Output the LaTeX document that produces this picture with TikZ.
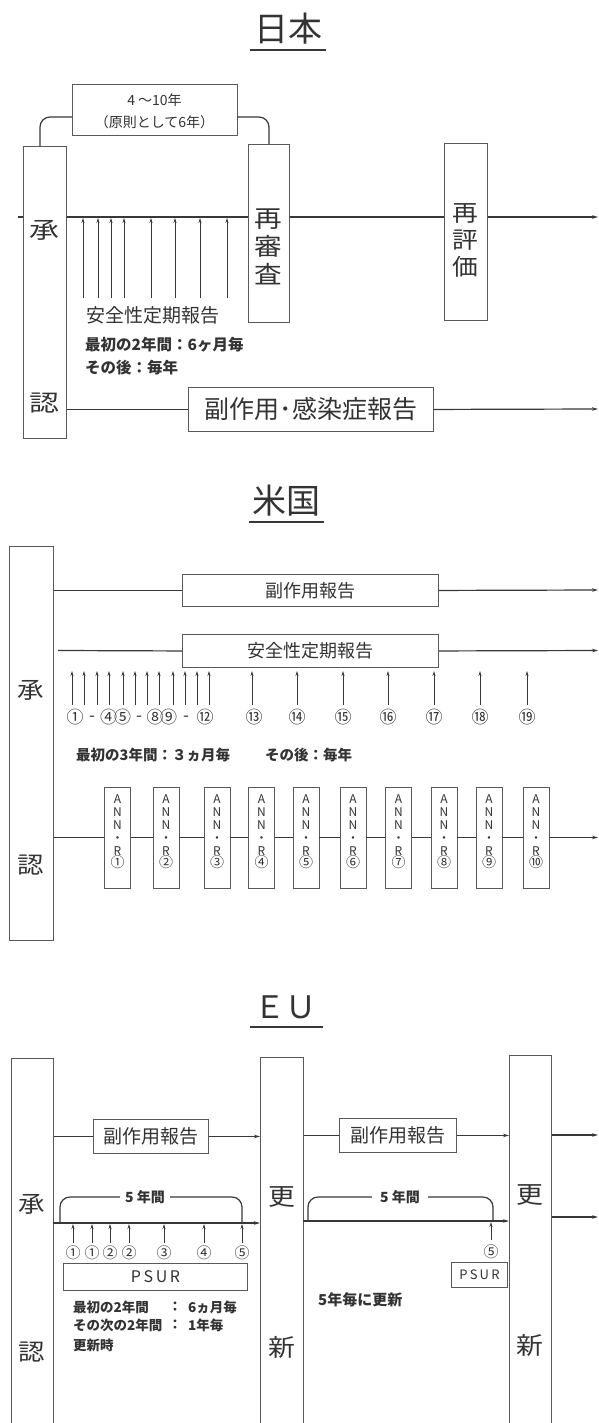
\documentclass[tikz,border=0pt]{standalone}
\usepackage{fontspec}
\setmainfont{Noto Sans CJK JP}
\usepackage{graphicx}
\usetikzlibrary{arrows.meta,calc}
\newcommand{\jw}[2]{\scalebox{#1}[1]{#2}}
\newcommand{\jfs}[1]{\fontsize{#1}{#1}\selectfont}
\begin{document}
\begin{tikzpicture}[x=1pt,y=-1pt,
  bx/.style={draw=black!65, line width=0.9pt, fill=white, inner sep=0pt, anchor=north west, text=black!80},
  ln/.style={draw=black!78, line width=1.2pt},
  arr/.style={ln, -{Stealth[length=6pt,width=3.5pt]}},
  up/.style={draw=black!78, line width=1pt, -{Stealth[length=5pt,width=3pt]}},
  txt/.style={inner sep=0pt, text=black!80},
  ]
\useasboundingbox (0,0) rectangle (599,1423);
\clip (0,0) rectangle (599,1423);
\fill[white] (0,0) rectangle (599,1423);

% ================= Japan =================
\node[txt, font=\jfs{34}] (jt) at (288,29) {日本};
\draw[ln] (250,50) -- (326,50);

\node[bx, minimum width=43pt, minimum height=292pt] (jA) at (23,146) {};
\node[txt, font=\jfs{23}] (jA1) at (44.5,230) {\jw{1.3}{承}};
\node[txt, font=\jfs{23}] (jA2) at (44.5,403) {\jw{1.3}{認}};

\node[bx, minimum width=41pt, minimum height=178pt] (jB) at (248,144) {};
\node[txt, align=center, font=\fontsize{24}{28}\selectfont] (jBt) at (268.5,246.5) {\jw{1.15}{再}\\\jw{1.15}{審}\\\jw{1.15}{査}};

\node[bx, minimum width=43pt, minimum height=177pt] (jC) at (444,143) {};
\node[txt, align=center, font=\fontsize{23}{27}\selectfont] (jCt) at (465.5,240) {\jw{1.12}{再}\\\jw{1.12}{評}\\\jw{1.12}{価}};

\node[bx, minimum width=165pt, minimum height=51pt] (jD) at (72,84) {};
\node[txt, align=center, font=\fontsize{14}{22}\selectfont] (jDt) at (154.5,111) {4 ～10年\\（原則として6年）};

\coordinate (jbl) at (40,146);
\coordinate (jbly) at (72,117);
\coordinate (jbry) at (237,117);
\coordinate (jbr) at (269,144);
\draw[ln, rounded corners=10pt] (jbl) |- (jbly);
\draw[ln, rounded corners=10pt] (jbry) -| (jbr);

\coordinate (jm0) at (18,217);
\coordinate (jm1) at (598,217);
\draw[ln] (jm0) -- (jA.west |- jm0);
\draw[ln] (jA.east |- jm0) -- (jB.west |- jm0);
\draw[ln] (jB.east |- jm0) -- (jC.west |- jm0);
\draw[arr] (jC.east |- jm0) -- (jm1);

\foreach \x [count=\i] in {83,98,111,124,151,175,200,227} {
  \coordinate (ja\i) at (\x,298);
  \coordinate (jb\i) at (\x,218);
  \draw[up] (ja\i) -- (jb\i);
}

\node[txt, font=\jfs{19}] (jS) at (153,315) {安全性定期報告};
\node[txt, font=\jfs{15.5}\bfseries, anchor=west] (jS1) at (85,345) {最初の2年間：6ヶ月毎};
\node[txt, font=\jfs{15.5}\bfseries, anchor=west] (jS2) at (85,368) {その後：毎年};

\node[bx, minimum width=245pt, minimum height=44pt, font=\jfs{25}] (jE) at (188,387) {副作用･感染症報告};
\coordinate (je1) at (598,409);
\draw[ln] (jA.east |- jE.west) -- (jE.west);
\draw[arr] (jE.east) -- (je1);

% ================= USA =================
\node[txt, font=\jfs{34}] (ut) at (286,501) {米国};
\draw[ln] (249,522) -- (324,522);

\node[bx, minimum width=44pt, minimum height=394pt] (uA) at (9,546) {};
\node[txt, font=\jfs{23}] (uA1) at (31,690) {\jw{1.15}{承}};
\node[txt, font=\jfs{23}] (uA2) at (31,865) {\jw{1.15}{認}};

\node[bx, minimum width=256pt, minimum height=32pt, font=\jfs{18}] (uB) at (182,574) {副作用報告};
\node[bx, minimum width=256pt, minimum height=33pt, font=\jfs{18}] (uC) at (182,634) {安全性定期報告};
\coordinate (ub1) at (598,590);
\coordinate (uc0) at (58,650.5);
\coordinate (uc1) at (598,650.5);
\draw[ln] (uA.east |- uB.west) -- (uB.west);
\draw[arr] (uB.east) -- (ub1);
\draw[ln] (uc0) -- (uC.west);
\draw[arr] (uC.east) -- (uc1);

\foreach \x [count=\i] in {72,84,97,109,123,135,147,159,173,185,197,209,252,297,343,388,434,480,527} {
  \coordinate (ua\i) at (\x,705);
  \coordinate (ub\i) at (\x,671);
  \draw[up] (ua\i) -- (ub\i);
}
\begin{scope}[every node/.style={txt, font=\jfs{17}}]
\node (ul1) at (75,717) {①};
\node (ud1) at (92,718.5) {-};
\node (ul4) at (108.5,717) {④};
\node (ul5) at (122.5,717) {⑤};
\node (ud2) at (139,718.5) {-};
\node (ul8) at (155,717) {⑧};
\node (ul9) at (168.5,717) {⑨};
\node (ud3) at (186,718.5) {-};
\node (ul12) at (205,717) {⑫};
\foreach \x/\c [count=\i] in {254/⑬,297/⑭,343/⑮,388/⑯,434/⑰,480/⑱,527/⑲} {
  \node (un\i) at (\x,717) {\c};
}
\end{scope}
\node[txt, font=\jfs{14.5}\bfseries, anchor=west] (uS1) at (76,755) {最初の3年間：３ヵ月毎};
\node[txt, font=\jfs{14.5}\bfseries, anchor=west] (uS2) at (265,755) {その後：毎年};

\foreach \x/\c [count=\i] in {117.5/①,166/②,217/③,261.5/④,306/⑤,353/⑥,398.5/⑦,444/⑧,489/⑨,536/⑩} {
  \node[bx, anchor=center, minimum width=26pt, minimum height=101pt] (ur\i) at (\x,837.5) {};
  \node[txt, align=center, font=\fontsize{12}{12.8}\selectfont] (urt\i) at (\x,832) {A\\N\\N\\・\\R\\{\jfs{14}\c}};
}
\coordinate (ur0) at (598,837.5);
\draw[ln] (uA.east |- ur1.west) -- (ur1.west);
\foreach \i [evaluate=\i as \j using int(\i+1)] in {1,...,9} {
  \draw[ln] (ur\i.east) -- (ur\j.west);
}
\draw[arr] (ur10.east) -- (ur0);

% ================= EU =================
\node[txt, font=\jfs{31}] (et) at (285,1007) {ＥＵ};
\draw[ln] (250,1027) -- (323,1027);

\node[bx, minimum width=42pt, minimum height=380pt] (eA) at (11,1058) {};
\node[txt, font=\jfs{23}] (eA1) at (32,1204) {\jw{1.15}{承}};
\node[txt, font=\jfs{23}] (eA2) at (32,1352) {\jw{1.15}{認}};
\node[bx, minimum width=43pt, minimum height=380pt] (eB) at (260,1057) {};
\node[txt, font=\jfs{24}] (eB1) at (281.5,1197) {\jw{1.12}{更}};
\node[txt, font=\jfs{24}] (eB2) at (281.5,1347) {\jw{1.12}{新}};
\node[bx, minimum width=42pt, minimum height=380pt] (eC) at (509,1055) {};
\node[txt, font=\jfs{24}] (eC1) at (530,1195) {\jw{1.12}{更}};
\node[txt, font=\jfs{24}] (eC2) at (530,1345) {\jw{1.12}{新}};

\node[bx, minimum width=115pt, minimum height=34pt, font=\jfs{19}] (eR1) at (93,1119) {副作用報告};
\node[bx, minimum width=117pt, minimum height=34pt, font=\jfs{19}] (eR2) at (339,1118) {副作用報告};
\coordinate (er3) at (598,1135);
\draw[ln] (eA.east |- eR1.west) -- (eR1.west);
\draw[arr] (eR1.east) -- (eB.west |- eR1.east);
\draw[ln] (eB.east |- eR2.west) -- (eR2.west);
\draw[arr] (eR2.east) -- (eC.west |- eR2.east);
\draw[arr] (eC.east |- er3) -- (er3);

\coordinate (ep1) at (53,1223);
\coordinate (ep2) at (303,1221);
\coordinate (ep3) at (598,1217);
\draw[arr] (ep1) -- (eB.west |- ep1);
\draw[arr] (ep2) -- (eC.west |- ep2);
\draw[arr] (eC.east |- ep3) -- (ep3);

% bracket 1
\node[txt, font=\jfs{14}\bfseries] (eb1t) at (145,1197) {5 年間};
\coordinate (eb1a) at (60,1223);
\coordinate (eb1d) at (242,1223);
\draw[ln, rounded corners=10pt] (eb1a) |- ($(eb1t.west)+(-5,0)$);
\draw[ln, rounded corners=10pt] ($(eb1t.east)+(5,0)$) -| (eb1d);
% bracket 2
\node[txt, font=\jfs{14}\bfseries] (eb2t) at (400,1197) {5 年間};
\coordinate (eb2a) at (308,1221);
\coordinate (eb2d) at (493,1221);
\draw[ln, rounded corners=10pt] (eb2a) |- ($(eb2t.west)+(-8,0)$);
\draw[ln, rounded corners=10pt] ($(eb2t.east)+(8,0)$) -| (eb2d);

\foreach \x/\c [count=\i] in {73/①,92/①,110/②,129/②,164/③,204/④,242/⑤} {
  \coordinate (eu\i) at (\x,1243);
  \coordinate (ev\i) at (\x,1224);
  \draw[up] (eu\i) -- (ev\i);
  \node[txt, font=\jfs{15}] (ec\i) at (\x,1253) {\c};
}
\node[bx, minimum width=184pt, minimum height=27pt, font=\jfs{16}] (eP1) at (63,1263) {P\,S\,U\,R};

\coordinate (ew1) at (491,1240);
\coordinate (ew2) at (491,1222);
\draw[up] (ew1) -- (ew2);
\node[txt, font=\jfs{15}] (ec8) at (491,1252) {⑤};
\node[bx, minimum width=56pt, minimum height=25pt, font=\jfs{13}] (eP2) at (451,1262) {P\,S\,U\,R};

\begin{scope}[every node/.style={txt, font=\jfs{13.5}\bfseries}]
\node[anchor=west] (et1a) at (73,1307) {最初の2年間};
\node (et1b) at (175,1307) {：};
\node[anchor=west] (et1c) at (188,1307) {6ヵ月毎};
\node[anchor=west] (et2a) at (73,1325) {その次の2年間};
\node (et2b) at (175,1325) {：};
\node[anchor=west] (et2c) at (188,1325) {1年毎};
\node[anchor=west] (et3a) at (73,1345) {更新時};
\end{scope}
\node[txt, font=\jfs{15}\bfseries, anchor=west] (et4) at (318,1300) {5年毎に更新};
\end{tikzpicture}
\end{document}
